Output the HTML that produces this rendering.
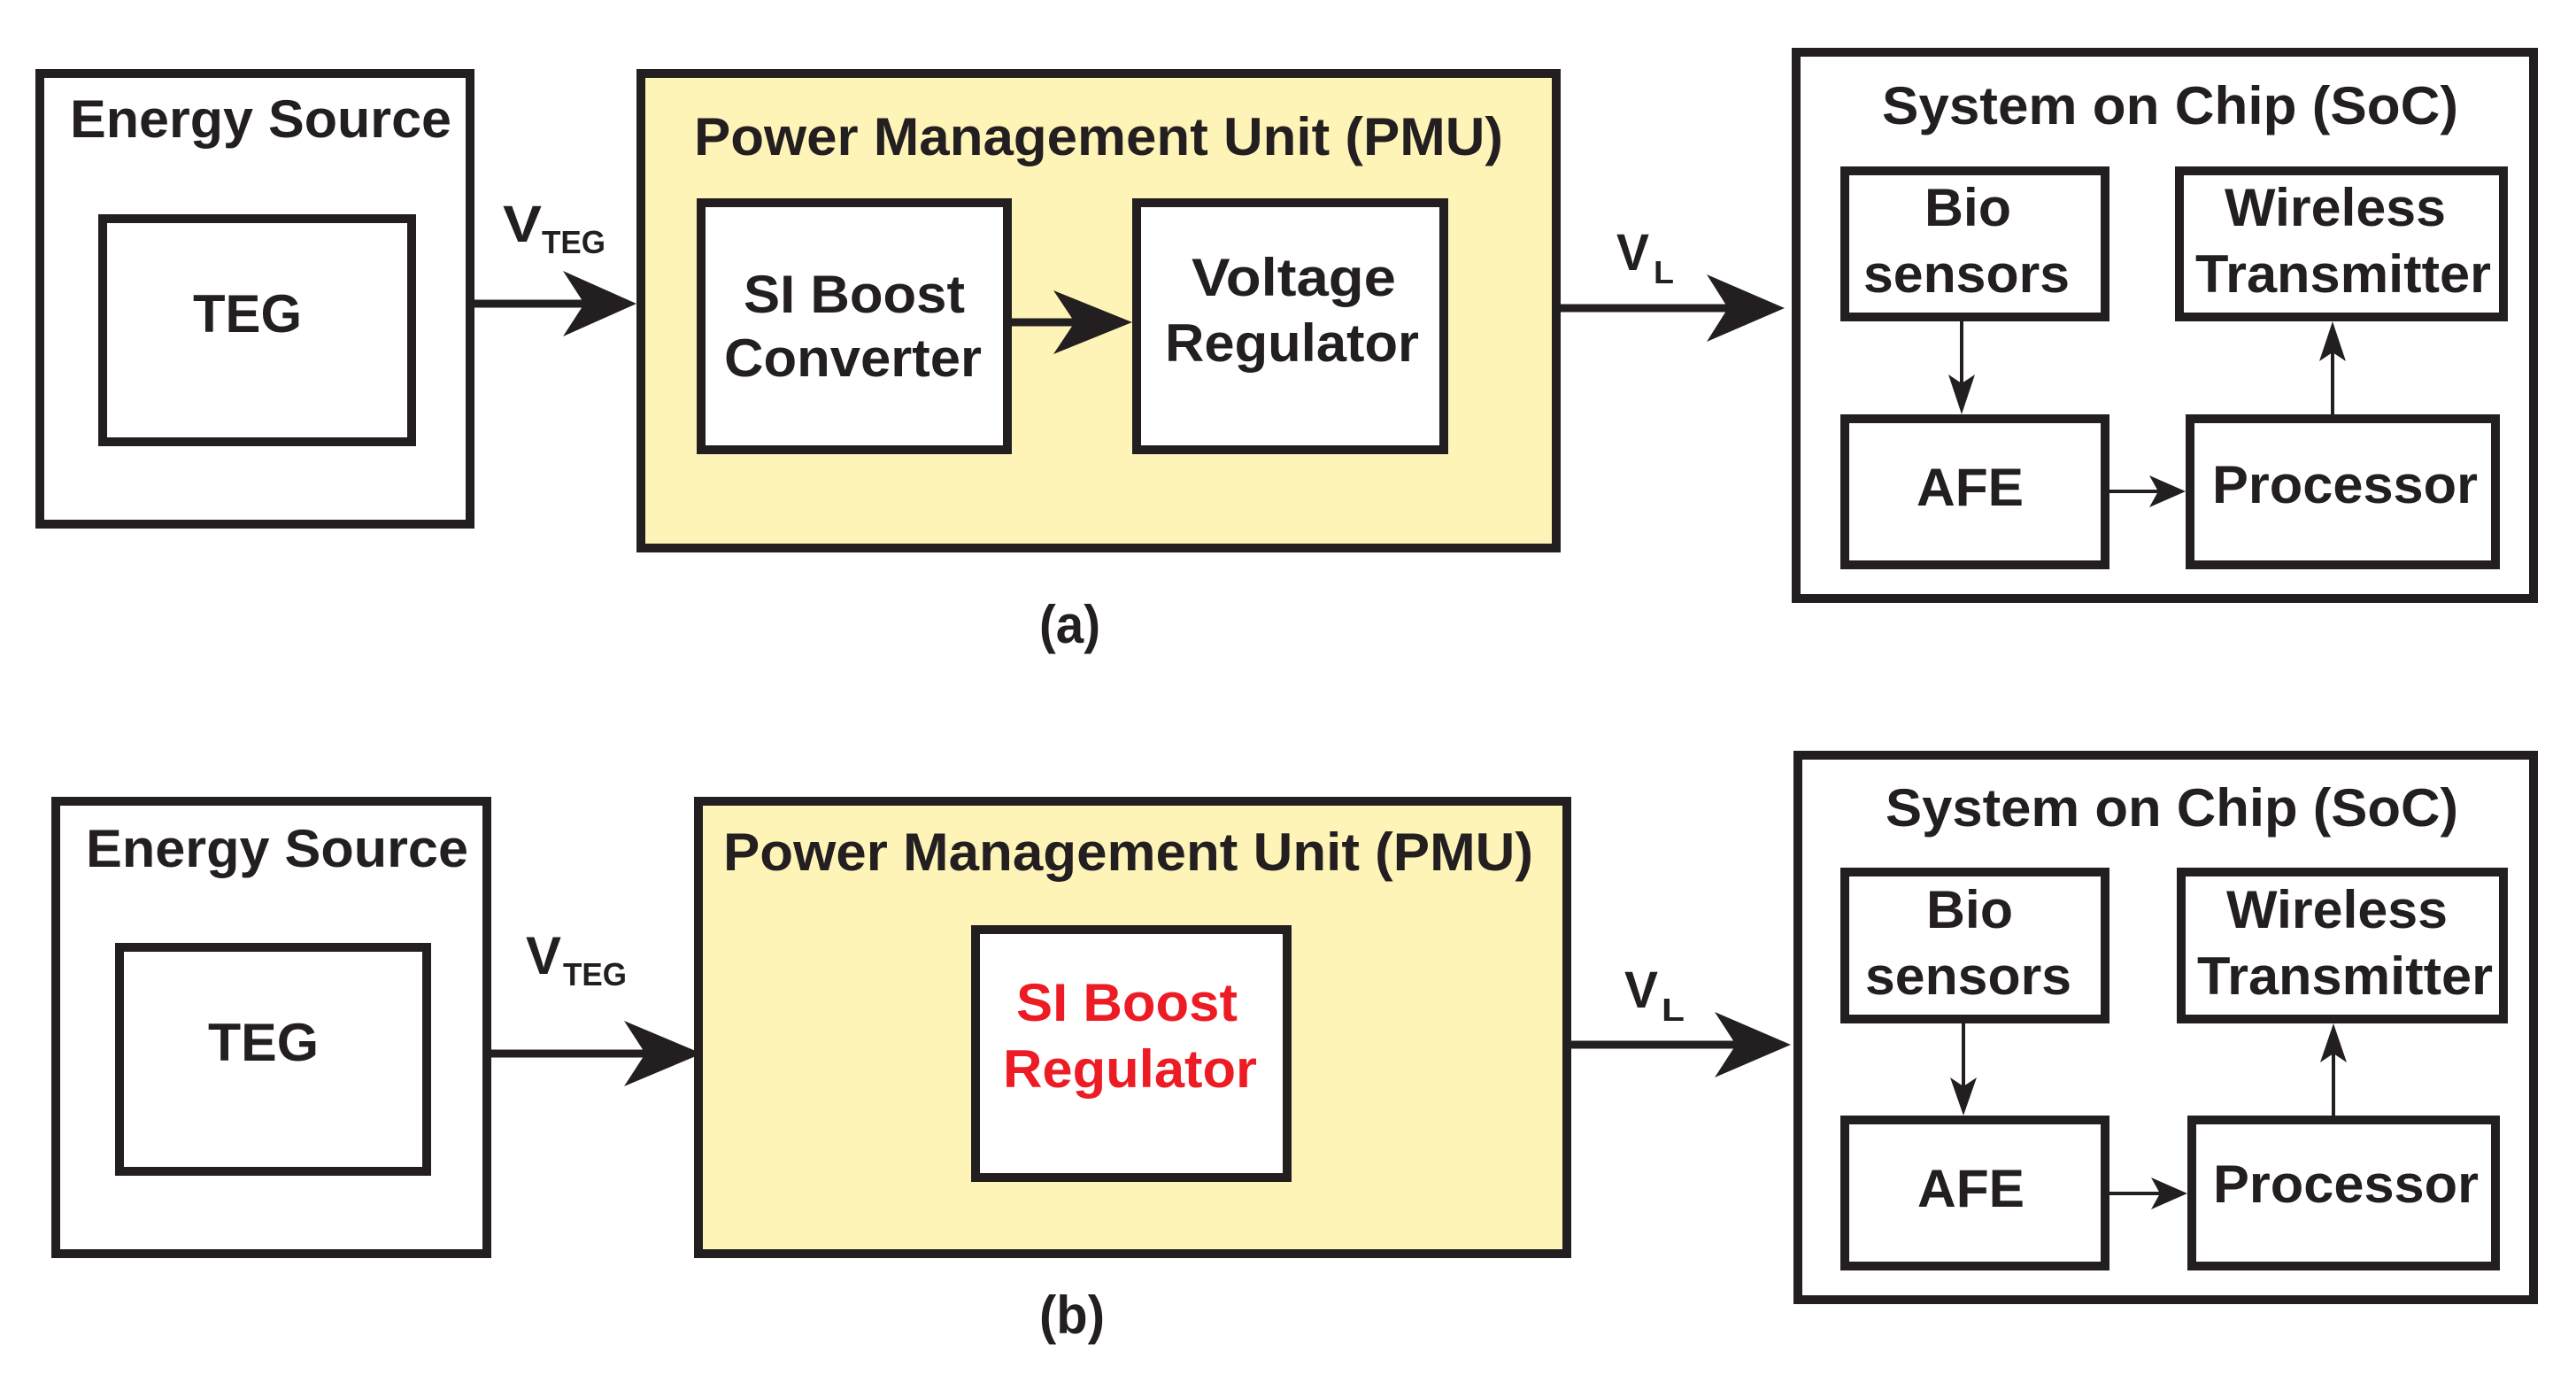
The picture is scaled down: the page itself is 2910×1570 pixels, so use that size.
<!DOCTYPE html>
<html><head><meta charset="utf-8"><style>
html,body{margin:0;padding:0;background:#fff;}
svg{display:block;}
text{font-family:"Liberation Sans",Arial,sans-serif;font-weight:bold;fill:#231f20;}
</style></head><body>
<svg width="2910" height="1570" viewBox="0 0 2910 1570" xmlns="http://www.w3.org/2000/svg">
<g fill="none" stroke="#231f20" stroke-width="10">
<!-- (a) -->
<rect x="45" y="83" width="486" height="509" fill="#fff"/>
<rect x="116" y="247" width="349" height="252" fill="#fff"/>
<rect x="724" y="83" width="1034" height="536" fill="#fff4b8"/>
<rect x="792" y="229" width="346" height="279" fill="#fff"/>
<rect x="1284" y="229" width="347" height="279" fill="#fff"/>
<rect x="2029" y="59" width="833" height="617" fill="#fff"/>
<rect x="2084" y="193" width="294" height="165" fill="#fff"/>
<rect x="2462" y="193" width="366" height="165" fill="#fff"/>
<rect x="2084" y="473" width="294" height="165" fill="#fff"/>
<rect x="2474" y="473" width="345" height="165" fill="#fff"/>
<!-- (b) -->
<rect x="63" y="905" width="487" height="511" fill="#fff"/>
<rect x="135" y="1070" width="347" height="253" fill="#fff"/>
<rect x="789" y="905" width="981" height="511" fill="#fff4b8"/>
<rect x="1102" y="1050" width="352" height="280" fill="#fff"/>
<rect x="2031" y="853" width="831" height="615" fill="#fff"/>
<rect x="2084" y="985" width="294" height="166" fill="#fff"/>
<rect x="2464" y="985" width="364" height="166" fill="#fff"/>
<rect x="2084" y="1265" width="294" height="165" fill="#fff"/>
<rect x="2476" y="1265" width="343" height="165" fill="#fff"/>
</g>
<!-- thick connectors -->
<g stroke="#231f20" stroke-width="9">
<line x1="536" y1="343" x2="680" y2="343"/>
<line x1="1143" y1="364" x2="1240" y2="364"/>
<line x1="1763" y1="348" x2="1975" y2="348"/>
<line x1="555" y1="1190" x2="755" y2="1190"/>
<line x1="1775" y1="1180" x2="1985" y2="1180"/>
</g>
<g fill="#231f20">
<polygon points="719,343 636,306 660,343 636,380"/>
<polygon points="1279,364 1190,328 1214,364 1190,400"/>
<polygon points="2016,348 1928,310 1952,348 1928,386"/>
<polygon points="793,1190 705,1153 729,1190 705,1227"/>
<polygon points="2023,1180 1937,1143 1961,1180 1937,1217"/>
</g>
<!-- thin connectors -->
<g stroke="#231f20" stroke-width="4">
<line x1="2216" y1="363" x2="2216" y2="440"/>
<line x1="2383" y1="555" x2="2440" y2="555"/>
<line x1="2635" y1="468" x2="2635" y2="392"/>
<line x1="2218" y1="1156" x2="2218" y2="1235"/>
<line x1="2383" y1="1348" x2="2442" y2="1348"/>
<line x1="2636" y1="1260" x2="2636" y2="1185"/>
</g>
<g fill="#231f20">
<polygon points="2216,468 2201,423 2216,433 2231,423"/>
<polygon points="2469,555 2428,537 2438,555 2428,573"/>
<polygon points="2635,363 2620,408 2635,398 2650,408"/>
<polygon points="2218,1260 2203,1217 2218,1227 2233,1217"/>
<polygon points="2471,1348 2430,1330 2440,1348 2430,1366"/>
<polygon points="2636,1156 2621,1200 2636,1190 2651,1200"/>
</g>
<!-- text (a) -->
<g font-size="60" lengthAdjust="spacingAndGlyphs">
<text x="79" y="155" textLength="431" lengthAdjust="spacingAndGlyphs">Energy Source</text>
<text x="218" y="375" textLength="123" lengthAdjust="spacingAndGlyphs">TEG</text>
<text x="784" y="175" textLength="914" lengthAdjust="spacingAndGlyphs">Power Management Unit (PMU)</text>
<text x="840" y="353" textLength="250" lengthAdjust="spacingAndGlyphs">SI Boost</text>
<text x="818" y="425" textLength="291" lengthAdjust="spacingAndGlyphs">Converter</text>
<text x="1346" y="334" textLength="231" lengthAdjust="spacingAndGlyphs">Voltage</text>
<text x="1316" y="408" textLength="287" lengthAdjust="spacingAndGlyphs">Regulator</text>
<text x="2126" y="140" textLength="651" lengthAdjust="spacingAndGlyphs">System on Chip (SoC)</text>
<text x="2174" y="255" textLength="98" lengthAdjust="spacingAndGlyphs">Bio</text>
<text x="2105" y="330" textLength="233" lengthAdjust="spacingAndGlyphs">sensors</text>
<text x="2513" y="255" textLength="250" lengthAdjust="spacingAndGlyphs">Wireless</text>
<text x="2480" y="330" textLength="334" lengthAdjust="spacingAndGlyphs">Transmitter</text>
<text x="2165" y="571" textLength="121" lengthAdjust="spacingAndGlyphs">AFE</text>
<text x="2499" y="568" textLength="300" lengthAdjust="spacingAndGlyphs">Processor</text>
<text x="1174" y="726" textLength="69" lengthAdjust="spacingAndGlyphs">(a)</text>
<!-- text (b) -->
<text x="97" y="979" textLength="432" lengthAdjust="spacingAndGlyphs">Energy Source</text>
<text x="235" y="1198" textLength="125" lengthAdjust="spacingAndGlyphs">TEG</text>
<text x="817" y="983" textLength="915" lengthAdjust="spacingAndGlyphs">Power Management Unit (PMU)</text>
<text x="1148" y="1153" textLength="250" lengthAdjust="spacingAndGlyphs" style="fill:#ed1c24">SI Boost</text>
<text x="1133" y="1228" textLength="287" lengthAdjust="spacingAndGlyphs" style="fill:#ed1c24">Regulator</text>
<text x="2130" y="933" textLength="647" lengthAdjust="spacingAndGlyphs">System on Chip (SoC)</text>
<text x="2176" y="1048" textLength="98" lengthAdjust="spacingAndGlyphs">Bio</text>
<text x="2107" y="1123" textLength="233" lengthAdjust="spacingAndGlyphs">sensors</text>
<text x="2515" y="1048" textLength="250" lengthAdjust="spacingAndGlyphs">Wireless</text>
<text x="2482" y="1123" textLength="334" lengthAdjust="spacingAndGlyphs">Transmitter</text>
<text x="2166" y="1363" textLength="121" lengthAdjust="spacingAndGlyphs">AFE</text>
<text x="2500" y="1358" textLength="300" lengthAdjust="spacingAndGlyphs">Processor</text>
<text x="1174" y="1506" textLength="74" lengthAdjust="spacingAndGlyphs">(b)</text>
</g>
<!-- voltage labels -->
<text x="568" y="273" font-size="58" textLength="44" lengthAdjust="spacingAndGlyphs">V</text>
<text x="612" y="286" font-size="36" textLength="72" lengthAdjust="spacingAndGlyphs">TEG</text>
<text x="1826" y="305" font-size="58" textLength="37" lengthAdjust="spacingAndGlyphs">V</text>
<text x="1868" y="320" font-size="36" textLength="23" lengthAdjust="spacingAndGlyphs">L</text>
<text x="594" y="1100" font-size="60" textLength="40" lengthAdjust="spacingAndGlyphs">V</text>
<text x="636" y="1113" font-size="36" textLength="72" lengthAdjust="spacingAndGlyphs">TEG</text>
<text x="1835" y="1138" font-size="58" textLength="38" lengthAdjust="spacingAndGlyphs">V</text>
<text x="1877" y="1153" font-size="36" textLength="26" lengthAdjust="spacingAndGlyphs">L</text>
</svg>
</body></html>
